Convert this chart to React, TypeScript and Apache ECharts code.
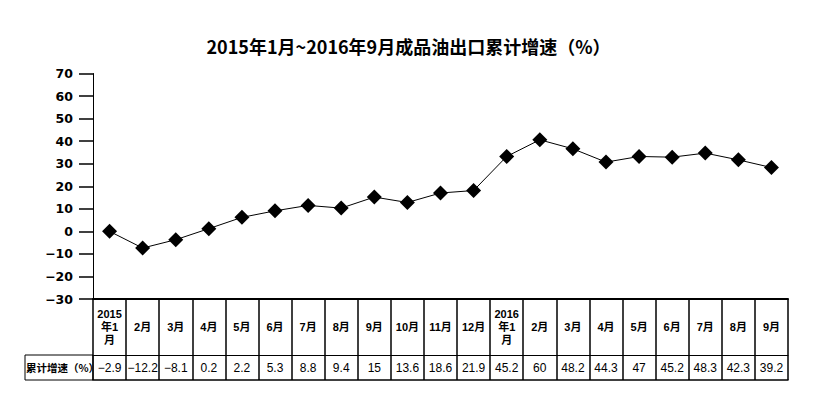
import React, { useEffect, useRef } from "react";
import * as echarts from "echarts";

const titleText = "2015年1月~2016年9月成品油出口累计增速（%）";
const categories = [
  "2015\n年1\n月", "2月", "3月", "4月", "5月", "6月", "7月", "8月", "9月", "10月", "11月", "12月",
  "2016\n年1\n月", "2月", "3月", "4月", "5月", "6月", "7月", "8月", "9月",
];
const plotted = [0, -7.4, -3.7, 1.2, 6.2, 9.1, 11.5, 10.3, 15.2, 12.8, 17.0, 18.1, 33.2, 40.6, 36.6, 30.7, 33.2, 32.9, 34.7, 31.7, 28.3];
const tableValues = [-2.9, -12.2, -8.1, 0.2, 2.2, 5.3, 8.8, 9.4, 15, 13.6, 18.6, 21.9, 45.2, 60, 48.2, 44.3, 47, 45.2, 48.3, 42.3, 39.2];
const rowLabel = "累计增速（%）";
const yMin = -30;
const yMax = 70;
const yStep = 10;

const fmt = (v: number) => String(v).replace("-", "\u2212");

export default function App() {
  const ref = useRef<HTMLDivElement>(null);
  useEffect(() => {
    if (!ref.current) return;
    const chart = echarts.init(ref.current, null, { renderer: "svg" });
    const gridLeft = 93;
    const gridRight = 29;
    const gridTop = 73.5;
    const gridBottom = 100;
    const axisY = 399 - gridBottom;
    chart.setOption({
      animation: false,
      backgroundColor: "#ffffff",
      title: {
        text: titleText,
        left: "center",
        top: 32,
        textStyle: { fontFamily: "Noto Sans CJK SC", fontSize: 18, fontWeight: "bold", color: "#000" },
      },
      grid: { left: gridLeft, right: gridRight, top: gridTop, bottom: gridBottom, containLabel: false },
      xAxis: [
        {
          type: "category",
          data: categories,
          position: "bottom",
          boundaryGap: true,
          axisLine: { show: true, onZero: false, lineStyle: { color: "#000", width: 2 } },
          axisTick: { show: true, interval: 0, length: 81, lineStyle: { color: "#000", width: 1.5 } },
          axisLabel: {
            interval: 0,
            margin: 28,
            verticalAlign: "middle",
            fontFamily: "Liberation Sans, Noto Sans CJK SC",
            fontSize: 11,
            fontWeight: "bold",
            lineHeight: 13,
            color: "#000",
          },
          splitLine: { show: false },
        },
        {
          type: "category",
          data: tableValues.map(fmt),
          position: "bottom",
          offset: 56,
          boundaryGap: true,
          axisLine: { show: true, onZero: false, lineStyle: { color: "#000", width: 1 } },
          axisTick: { show: false },
          axisLabel: {
            interval: 0,
            margin: 13,
            verticalAlign: "middle",
            fontFamily: "Liberation Sans",
            fontSize: 12,
            color: "#000",
          },
          splitLine: { show: false },
        },
        {
          type: "category",
          data: categories,
          position: "bottom",
          offset: 81,
          boundaryGap: true,
          axisLine: { show: true, onZero: false, lineStyle: { color: "#000", width: 1.5 } },
          axisTick: { show: false },
          axisLabel: { show: false },
          splitLine: { show: false },
        },
      ],
      yAxis: {
        type: "value",
        min: yMin,
        max: yMax,
        interval: yStep,
        axisLine: { show: true, lineStyle: { color: "#000", width: 1 } },
        axisTick: { show: true, length: 14, lineStyle: { color: "#000", width: 1.5 } },
        axisLabel: {
          margin: 20,
          fontFamily: "DejaVu Sans",
          fontWeight: "bold",
          fontSize: 12.5,
          color: "#000",
          formatter: (v: number) => fmt(v),
        },
        splitLine: { show: false },
      },
      graphic: [
        {
          type: "rect",
          shape: { x: 25, y: axisY + 56, width: gridLeft - 25, height: 25 },
          style: { fill: "none", stroke: "#000", lineWidth: 1 },
        },
        {
          type: "text",
          x: 26,
          y: axisY + 68.5,
          style: {
            text: rowLabel,
            fontFamily: "Noto Sans CJK SC",
            fontSize: 10.5,
            fontWeight: "bold",
            fill: "#000",
            verticalAlign: "middle",
            align: "left",
          },
        },
      ],
      series: [
        {
          type: "line",
          data: plotted,
          xAxisIndex: 0,
          symbol: "diamond",
          symbolSize: 15,
          itemStyle: { color: "#000" },
          lineStyle: { color: "#000", width: 1 },
        },
      ],
    });
    return () => chart.dispose();
  }, []);
  return (
    <div
      ref={ref}
      style={{ position: "fixed", left: 0, top: 0, width: 817, height: 399, background: "#fff" }}
    />
  );
}
